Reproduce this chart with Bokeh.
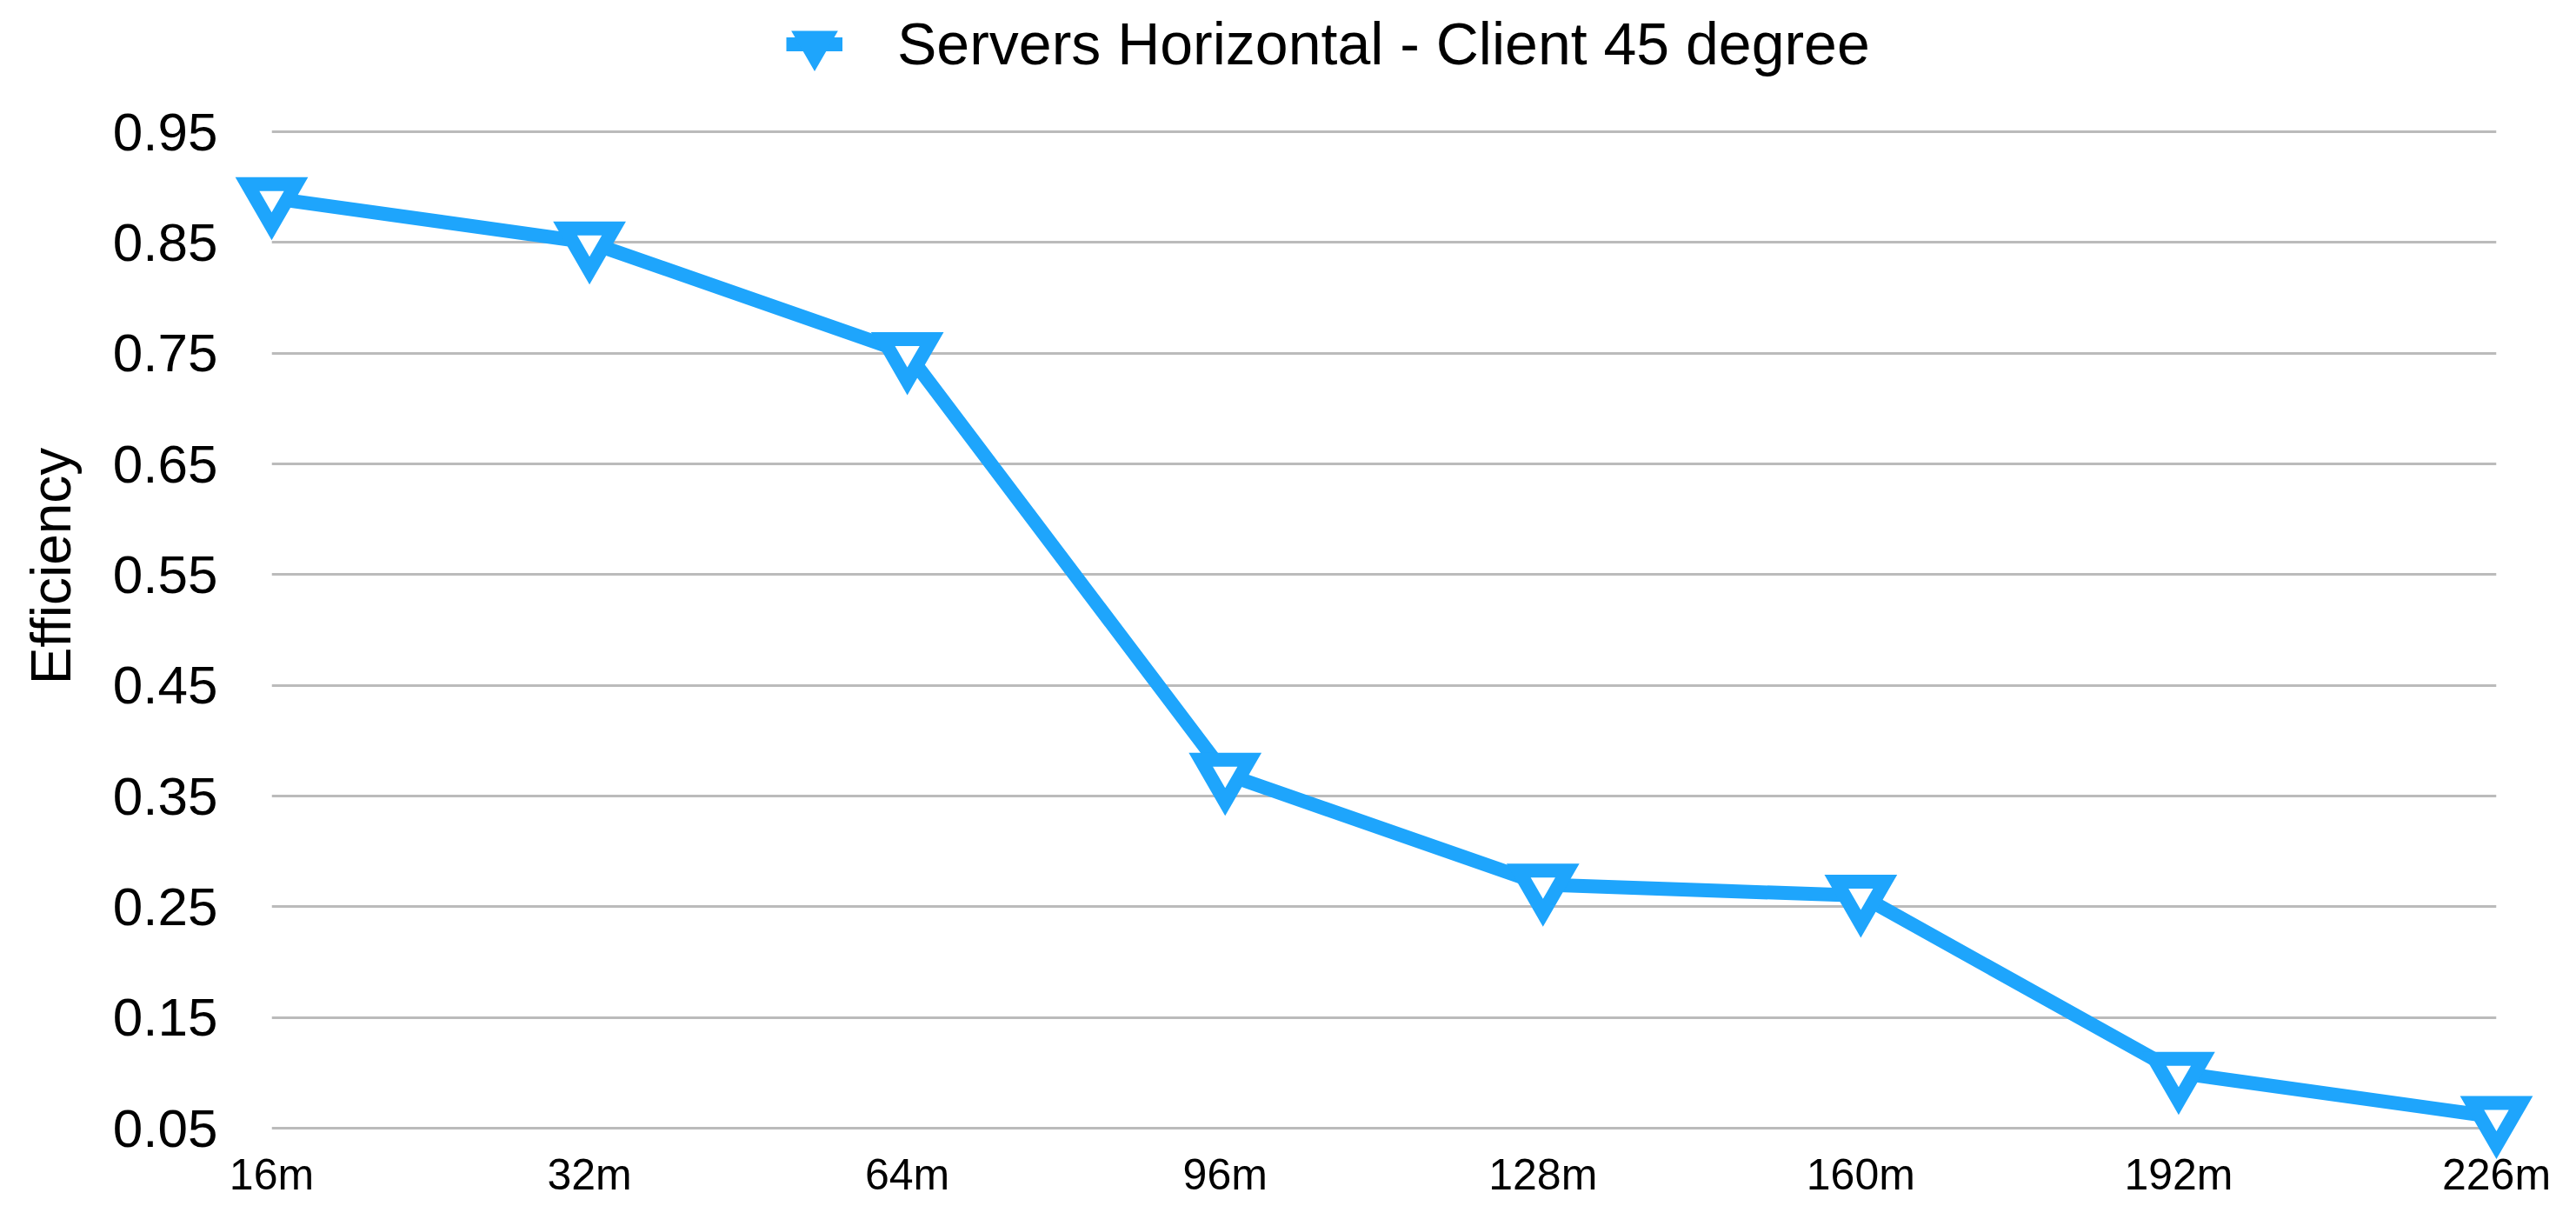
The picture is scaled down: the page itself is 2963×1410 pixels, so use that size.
from bokeh.plotting import figure
from bokeh.models import Range1d, FixedTicker, Legend, LegendItem
from bokeh.embed import file_html
from bokeh.resources import INLINE

categories = ["16m", "32m", "64m", "96m", "128m", "160m", "192m", "226m"]
efficiency = [0.89, 0.85, 0.75, 0.37, 0.27, 0.26, 0.10, 0.06]
series_name = "Servers Horizontal - Client 45 degree"
y_ticks = [0.05, 0.15, 0.25, 0.35, 0.45, 0.55, 0.65, 0.75, 0.85, 0.95]
y_tick_labels = ["0.05", "0.15", "0.25", "0.35", "0.45", "0.55", "0.65", "0.75", "0.85", "0.95"]
y_title = "Efficiency"

FONT = "Liberation Sans"
BLUE = "#1ea5fc"

x_pos = list(range(len(categories)))

# layout (canvas pixels): frame spans the full height above the x axis so the
# legend (drawn inside the frame) sits above the top grid line
W, H = 2947, 1394
BORDER_BOTTOM = 93
TOP_GRID_PX = 151      # canvas y of the top tick line
BOTTOM_GRID_PX = 1297  # canvas y of the bottom tick line
px_per_unit = (BOTTOM_GRID_PX - TOP_GRID_PX) / (y_ticks[-1] - y_ticks[0])
frame_bottom = H - BORDER_BOTTOM
y_start = y_ticks[0] - (frame_bottom - BOTTOM_GRID_PX) / px_per_unit
y_end = y_ticks[-1] + TOP_GRID_PX / px_per_unit

p = figure(width=W, height=H, output_backend="svg", toolbar_location=None,
           x_range=Range1d(x_pos[0], x_pos[-1]),
           y_range=Range1d(y_start, y_end),
           min_border_left=312, min_border_right=76, min_border_top=0,
           min_border_bottom=BORDER_BOTTOM)
p.outline_line_color = None
p.background_fill_color = "white"
p.border_fill_color = "white"

ln = p.line(x_pos, efficiency, line_color=BLUE, line_width=16, level="overlay")
sc = p.scatter(x_pos, efficiency, marker="inverted_triangle", size=56,
               fill_color="white", line_color=BLUE, line_width=16, line_join="miter",
               level="overlay")

# axes
p.xaxis.ticker = FixedTicker(ticks=x_pos)
p.xaxis.major_label_overrides = {i: c for i, c in zip(x_pos, categories)}
p.xaxis.axis_line_color = None
p.xaxis.major_tick_line_color = None
p.xaxis.minor_tick_line_color = None
p.xaxis.major_tick_out = 0
p.xaxis.major_label_standoff = 21
p.xaxis.major_label_text_font = FONT
p.xaxis.major_label_text_font_size = "50px"
p.xaxis.major_label_text_color = "black"

p.yaxis.ticker = FixedTicker(ticks=y_ticks)
p.yaxis.bounds = (y_ticks[0], y_ticks[-1])
p.yaxis.major_label_overrides = {t: l for t, l in zip(y_ticks, y_tick_labels)}
p.yaxis.axis_line_color = None
p.yaxis.major_tick_line_color = None
p.yaxis.minor_tick_line_color = None
p.yaxis.major_tick_out = 0
p.yaxis.major_label_standoff = 62
p.yaxis.major_label_text_font = FONT
p.yaxis.major_label_text_font_size = "62px"
p.yaxis.major_label_text_color = "black"
p.yaxis.axis_label = y_title
p.yaxis.axis_label_text_font = FONT
p.yaxis.axis_label_text_font_size = "64px"
p.yaxis.axis_label_text_font_style = "normal"
p.yaxis.axis_label_text_color = "black"
p.yaxis.axis_label_standoff = 32

p.xgrid.grid_line_color = None
p.ygrid.grid_line_color = "#bbbbbb"
p.ygrid.grid_line_width = 3

legend = Legend(items=[LegendItem(label=series_name, renderers=[ln, sc])],
                location=(592, 1212), orientation="horizontal",
                glyph_width=65, glyph_height=65, label_standoff=63,
                label_text_font=FONT, label_text_font_size="68px",
                label_text_color="black", padding=0, margin=0,
                border_line_color=None, background_fill_alpha=0)
p.add_layout(legend, "center")

open("out.html", "w").write(file_html(p, INLINE))
